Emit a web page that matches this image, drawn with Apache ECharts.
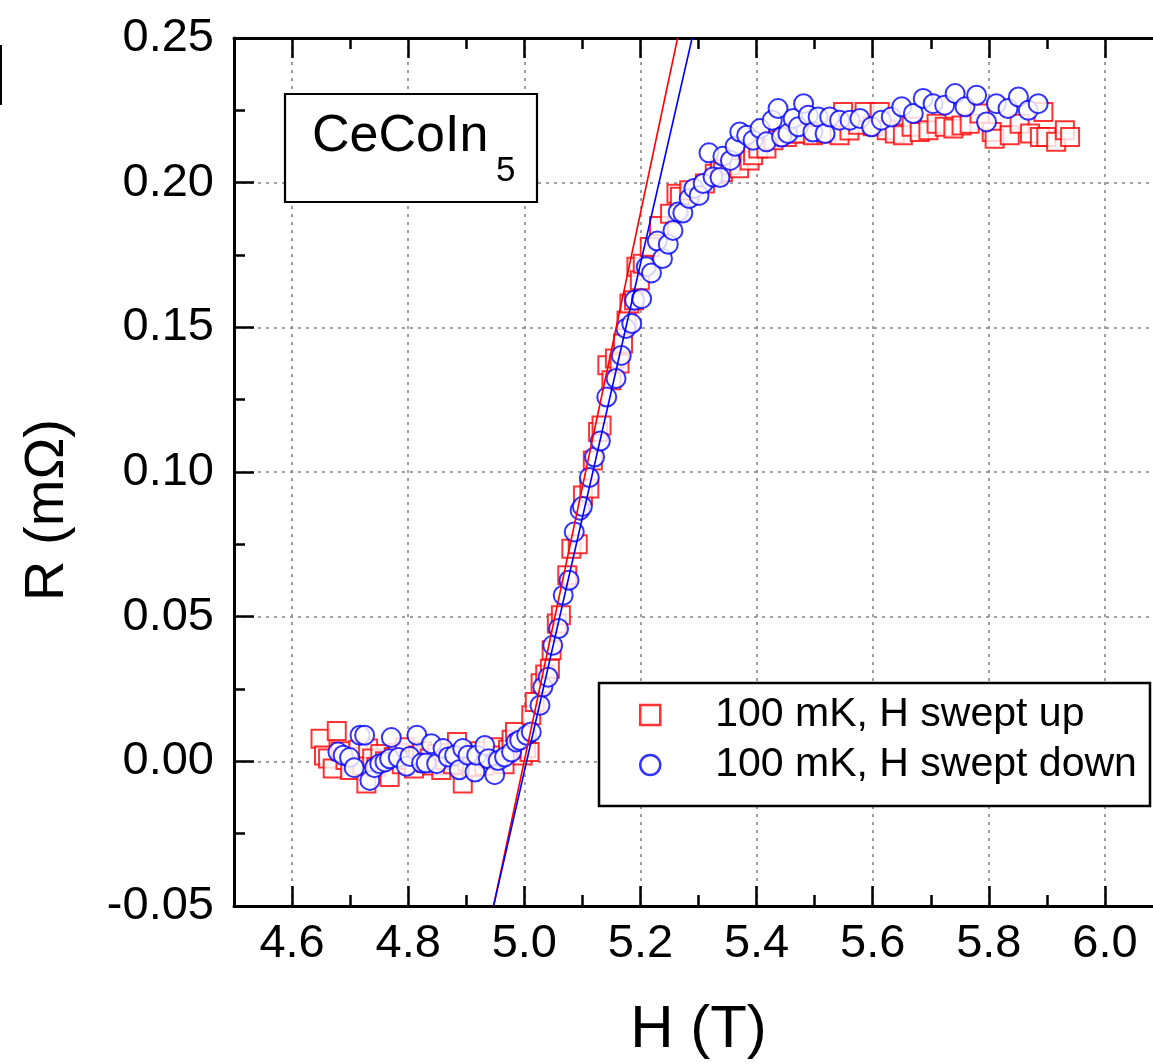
<!DOCTYPE html>
<html><head><meta charset="utf-8">
<script src="https://cdn.jsdelivr.net/npm/echarts@6/dist/echarts.min.js"></script>
<style>html,body{margin:0;padding:0;background:#fff}#c{width:1153px;height:1064px}</style>
</head><body><div id="c"></div>
<script>
// ---- data (H in tesla, R in mOhm) ----
const seriesNames = ['100 mK, H swept up', '100 mK, H swept down'];
const sweptUp = [
[4.649,0.0078],[4.655,0.0020],[4.662,0.0010],[4.670,-0.0025],[4.677,0.0105],[4.684,0.0035],[4.692,0.0005],[4.700,-0.0030],[4.707,0.0015],[4.714,0.0040],
[4.721,-0.0015],[4.728,-0.0077],[4.731,0.0044],[4.738,0.0010],[4.745,-0.0020],[4.752,0.0025],[4.760,0.0000],[4.768,-0.0054],[4.775,0.0015],[4.782,0.0030],
[4.789,-0.0010],[4.794,0.0049],[4.802,0.0005],[4.810,-0.0025],[4.817,0.0020],[4.824,0.0035],[4.831,-0.0005],[4.837,0.0010],[4.843,-0.0014],[4.850,0.0025],
[4.857,-0.0030],[4.864,0.0005],[4.871,0.0030],[4.877,-0.0010],[4.884,0.0067],[4.890,0.0015],[4.894,-0.0077],[4.902,0.0000],[4.910,-0.0020],[4.917,0.0020],
[4.924,0.0035],[4.931,-0.0015],[4.938,0.0010],[4.946,0.0049],[4.953,0.0005],[4.960,0.0020],[4.966,-0.0010],[4.972,0.0040],[4.978,0.0075],[4.984,0.0101],
[4.991,0.0060],[4.997,0.0020],[5.003,0.0045],[5.009,0.0032],[5.012,0.0159],[5.018,0.0205],[5.028,0.0270],[5.036,0.0300],[5.044,0.0320],[5.047,0.0384],
[5.056,0.0476],[5.063,0.0505],[5.074,0.0643],[5.081,0.0735],[5.092,0.0750],[5.101,0.0919],[5.112,0.0943],[5.118,0.1040],[5.127,0.1138],[5.133,0.1161],
[5.143,0.1369],[5.150,0.1317],[5.156,0.1392],[5.164,0.1375],[5.170,0.1444],[5.176,0.1524],[5.181,0.1582],[5.189,0.1594],[5.193,0.1709],[5.199,0.1663],
[5.204,0.1720],[5.216,0.1778],[5.232,0.1850],[5.251,0.1893],[5.262,0.1962],[5.268,0.1951],[5.284,0.1974],[5.311,0.1997],[5.328,0.2031],[5.337,0.2047],
[5.342,0.2037],[5.355,0.2060],[5.370,0.2050],[5.388,0.2077],[5.394,0.2095],[5.403,0.2118],[5.417,0.2118],[5.429,0.2147],[5.452,0.2158],[5.469,0.2170],
[5.474,0.2170],[5.497,0.2164],[5.520,0.2170],[5.543,0.2164],[5.549,0.2244],[5.560,0.2180],[5.575,0.2200],[5.586,0.2244],[5.600,0.2195],[5.612,0.2244],
[5.624,0.2181],[5.638,0.2170],[5.652,0.2164],[5.667,0.2193],[5.681,0.2175],[5.696,0.2181],[5.710,0.2204],[5.724,0.2193],[5.739,0.2187],[5.753,0.2198],
[5.767,0.2204],[5.784,0.2239],[5.805,0.2175],[5.810,0.2152],[5.836,0.2164],[5.853,0.2204],[5.871,0.2170],[5.888,0.2158],[5.894,0.2244],[5.899,0.2158],
[5.916,0.2141],[5.931,0.2181],[5.940,0.2158]
];
const sweptDown = [
[4.679,0.0032],[4.688,0.0021],[4.699,0.0013],[4.707,-0.0022],[4.717,0.0090],[4.725,0.0090],[4.734,-0.0066],[4.742,-0.0022],[4.751,-0.0008],[4.760,-0.0002],
[4.768,0.0009],[4.771,0.0082],[4.783,0.0013],[4.797,-0.0017],[4.803,0.0017],[4.815,0.0090],[4.823,-0.0006],[4.831,-0.0006],[4.840,0.0061],[4.849,-0.0008],
[4.860,0.0044],[4.869,0.0015],[4.880,0.0021],[4.888,-0.0029],[4.894,0.0044],[4.903,0.0021],[4.915,-0.0037],[4.918,0.0021],[4.932,0.0055],[4.938,0.0009],
[4.949,-0.0046],[4.955,0.0003],[4.966,0.0015],[4.978,0.0032],[4.986,0.0067],[4.992,0.0073],[5.004,0.0090],[5.012,0.0101],[5.027,0.0194],[5.032,0.0257],
[5.041,0.0291],[5.049,0.0401],[5.059,0.0459],[5.067,0.0574],[5.077,0.0626],[5.086,0.0793],[5.096,0.0868],[5.100,0.0881],[5.112,0.0981],[5.121,0.1052],
[5.131,0.1107],[5.142,0.1259],[5.158,0.1323],[5.167,0.1403],[5.175,0.1496],[5.185,0.1513],[5.190,0.1594],[5.202,0.1599],[5.210,0.1709],[5.219,0.1688],
[5.229,0.1798],[5.238,0.1738],[5.248,0.1787],[5.256,0.1835],[5.265,0.1899],[5.273,0.1895],[5.284,0.1945],[5.292,0.1980],[5.301,0.1956],[5.308,0.1997],
[5.318,0.2103],[5.325,0.2020],[5.337,0.2018],[5.342,0.2091],[5.355,0.2077],[5.363,0.2126],[5.371,0.2175],[5.383,0.2164],[5.394,0.2147],[5.406,0.2187],
[5.417,0.2141],[5.427,0.2216],[5.437,0.2256],[5.443,0.2158],[5.454,0.2170],[5.463,0.2222],[5.472,0.2193],[5.481,0.2273],[5.489,0.2233],[5.497,0.2175],
[5.506,0.2227],[5.518,0.2170],[5.526,0.2227],[5.543,0.2216],[5.561,0.2216],[5.578,0.2222],[5.598,0.2193],[5.615,0.2216],[5.632,0.2227],[5.650,0.2262],
[5.670,0.2239],[5.687,0.2291],[5.704,0.2273],[5.724,0.2268],[5.742,0.2308],[5.759,0.2262],[5.779,0.2302],[5.796,0.2210],[5.813,0.2273],[5.833,0.2256],
[5.851,0.2296],[5.868,0.2250],[5.885,0.2273]
];
// linear fits (end points at the y-axis limits)
const fitUp = [[4.947,-0.05],[5.264,0.25]];
const fitDown = [[4.947,-0.05],[5.289,0.25]];
// axes
const xMajorTicks = [4.6,4.8,5.0,5.2,5.4,5.6,5.8,6.0];
const xMinorTicks = [4.7,4.9,5.1,5.3,5.5,5.7,5.9];
const xRange = [4.5, 6.1];
const yRange = [-0.05, 0.25];
const yStep = 0.05;

const FONT = "'Liberation Sans', Arial, Helvetica, sans-serif";
const chart = echarts.init(document.getElementById('c'), null, {renderer: 'canvas'});
const grid = '#808080';
function xAx(pos, ticks, len, opts) {
  return Object.assign({
    type: 'value', position: pos, min: xRange[0], max: xRange[1], gridIndex: 0,
    axisLine: {show: false, onZero: false},
    axisTick: {show: true, inside: true, length: len, customValues: ticks, lineStyle: {color: '#000', width: 2.5}},
    axisLabel: {show: false},
    splitLine: {show: false}
  }, opts || {});
}
const option = {
  animation: false,
  backgroundColor: '#fff',
  grid: {left: 234, top: 38, right: -10, bottom: 158, containLabel: false, outerBoundsMode: 'none'},
  xAxis: [
    xAx('bottom', xMajorTicks, 20, {
      axisLine: {show: true, onZero: false, lineStyle: {color: '#000', width: 3}},
      axisLabel: {show: true, customValues: xMajorTicks, formatter: v => v.toFixed(1), fontSize: 47, color: '#000', fontFamily: FONT, margin: 15},
      splitLine: {show: true, lineStyle: {color: grid, width: 1.5, type: [3, 5]}},
      name: 'H (T)', nameLocation: 'middle', nameGap: 94,
      nameTextStyle: {fontSize: 60, color: '#000', fontFamily: FONT}
    }),
    xAx('bottom', xMinorTicks, 11),
    xAx('top', xMajorTicks, 20, {axisLine: {show: true, onZero: false, lineStyle: {color: '#000', width: 3}}}),
    xAx('top', xMinorTicks, 11)
  ],
  yAxis: [{
    type: 'value', position: 'left', min: yRange[0], max: yRange[1], interval: yStep,
    axisLine: {show: true, onZero: false, lineStyle: {color: '#000', width: 3}},
    axisTick: {show: true, inside: true, length: 20, lineStyle: {color: '#000', width: 2.5}},
    minorTick: {show: true, splitNumber: 2, length: 11, lineStyle: {color: '#000', width: 2.5}},
    axisLabel: {formatter: v => v.toFixed(2), fontSize: 47, color: '#000', fontFamily: FONT, margin: 20},
    splitLine: {show: true, lineStyle: {color: grid, width: 1.5, type: [3, 5]}},
    name: 'R (mΩ)', nameLocation: 'middle', nameGap: 158,
    nameTextStyle: {fontSize: 56, color: '#000', fontFamily: FONT, padding: [0, 76, 0, 0]}
  }],
  legend: {
    orient: 'vertical', left: 639, top: 690, padding: 0, itemGap: 0,
    itemWidth: 20, itemHeight: 20, selectedMode: false,
    textStyle: {fontSize: 41, lineHeight: 50, color: '#000', fontFamily: FONT, padding: [0, 0, 0, 50]},
    data: [
      {name: seriesNames[0], icon: 'rect', itemStyle: {color: '#fff', borderColor: '#ff0000', borderWidth: 2.5}},
      {name: seriesNames[1], icon: 'circle', itemStyle: {color: '#fff', borderColor: '#0000ff', borderWidth: 2.5}}
    ],
    z: 5
  },
  graphic: [
    {type: 'rect', z: 1, shape: {x: 599, y: 683, width: 551, height: 123}, style: {fill: '#fff', stroke: '#000', lineWidth: 2.5}},
    {type: 'rect', z: 1, shape: {x: 285, y: 94, width: 252, height: 108}, style: {fill: '#fff', stroke: '#000', lineWidth: 2.2}},
    {type: 'text', z: 3, x: 312, y: 137, style: {text: 'CeCoIn', font: '52px ' + FONT, fill: '#000', verticalAlign: 'middle'}},
    {type: 'text', z: 3, x: 496, y: 171, style: {text: '5', font: '35px ' + FONT, fill: '#000', verticalAlign: 'middle'}},
    {type: 'rect', z: 3, shape: {x: 0, y: 45, width: 2, height: 60}, style: {fill: '#000'}}
  ],
  series: [
    {name: seriesNames[0], type: 'scatter', data: sweptUp, symbol: 'rect', symbolSize: 18,
     itemStyle: {color: '#fff', borderColor: '#ff0000', borderWidth: 2}, z: 2},
    {name: seriesNames[1], type: 'scatter', data: sweptDown, symbol: 'circle', symbolSize: 19,
     itemStyle: {color: '#fff', borderColor: '#0000ff', borderWidth: 2}, z: 2},
    {name: 'fit up', type: 'line', data: fitUp, showSymbol: false, silent: true,
     lineStyle: {color: '#ff0000', width: 1.6}, z: 3},
    {name: 'fit down', type: 'line', data: fitDown, showSymbol: false, silent: true,
     lineStyle: {color: '#0000ff', width: 1.6}, z: 3}
  ]
};
chart.setOption(option);
</script>
</body></html>
